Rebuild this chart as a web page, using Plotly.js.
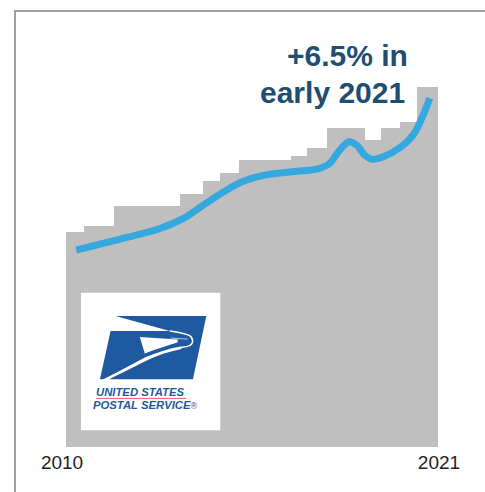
<!DOCTYPE html>
<html>
<head>
<meta charset="utf-8">
<script src="https://cdn.plot.ly/plotly-3.0.1.min.js"></script>
<style>
  html, body { margin: 0; padding: 0; background: #fff; overflow: hidden; }
  #frame { position: absolute; left: 14px; top: 10px; width: 471px; height: 482px;
           border-left: 2px solid #a0a0a0; border-top: 2px solid #a0a0a0; box-sizing: border-box; }
  #chart { position: absolute; left: 0; top: 0; width: 485px; height: 492px; }
</style>
</head>
<body>
<div id="frame"></div>
<div id="chart"></div>
<script>
// Yearly step index (grey) and the smoothed trend drawn over it.
const stepEdges = [2010, 2010.53, 2011.42, 2013.37, 2014.05, 2014.55, 2015.12, 2016.65,
                   2017.13, 2017.72, 2018.84, 2019.31, 2019.88, 2020.38, 2021];
const stepValues = [59.6, 61.4, 66.9, 70.4, 73.9, 76.1, 79.6, 80.9, 83, 88.6, 85.2, 88.6, 90.4, 100];

const trendYears = [2010.30, 2010.81, 2011.79, 2012.78, 2013.47, 2014.06, 2014.75, 2015.24,
                    2015.80, 2016.72, 2017.41, 2017.78, 2018.08, 2018.37, 2018.60,
                    2018.84, 2019.06, 2019.38, 2019.88, 2020.27, 2020.52, 2020.76];
const trendValues = [54.7, 55.9, 58.2, 60.7, 63.5, 67.2, 71.4, 73.8,
                     75.4, 76.5, 77.2, 78.6, 82.3, 84.8, 83.8,
                     81.0, 79.9, 80.6, 83.2, 86.7, 91.3, 96.9];

const tickPositions = [2009.88, 2021.03];
const tickLabels = ['2010', '2021'];

// Postal emblem on its white panel, 140 x 138 units.
const emblem = `<svg xmlns="http://www.w3.org/2000/svg" width="420" height="414" viewBox="0 0 140 138">
<rect width="140" height="138" fill="#fff"/>
<path d="M34.7 23.4 L125.7 23.4 L112.3 86.7 L19 86.7 L29.7 38.4 L89 38.4 Z" fill="#1f5aa0"/>
<path d="M89 38.4 C97 39.5 105 41 109 43 C113 46 113 51 109 53 C105 54.5 102 54.5 99 55" fill="none" stroke="#fff" stroke-width="1.4"/>
<path d="M21 87.5 C40 78 55 70 64 65 C76 60 88 56 100 54 L101 56.5 C88 59 76 63 66 68 C52 75 38 82 27 87.5 Z" fill="#fff"/>
<path d="M59 44.4 L97.3 47 L96.7 50 C86 53 74 57 64 61 Z" fill="#fff"/>
<path d="M90 45.5 L107 46.5" stroke="#cfe0f0" stroke-width="0.8" fill="none"/>
</svg>`;

const data = [
  {
    type: 'bar',
    x: stepEdges.slice(0, -1),
    y: stepValues,
    width: stepValues.map((_, i) => stepEdges[i + 1] - stepEdges[i]),
    offset: 0,
    marker: { color: '#bfbfbf', line: { width: 0 } },
    hoverinfo: 'skip'
  },
  {
    type: 'scatter',
    mode: 'lines',
    x: trendYears,
    y: trendValues,
    line: { color: '#36a8e0', width: 7, shape: 'spline', smoothing: 1 },
    hoverinfo: 'skip'
  }
];

const layout = {
  width: 485,
  height: 492,
  margin: { l: 59.9, r: 43, t: 15, b: 45.3, pad: 0 },
  paper_bgcolor: 'rgba(0,0,0,0)',
  plot_bgcolor: 'rgba(0,0,0,0)',
  showlegend: false,
  bargap: 0,
  xaxis: {
    range: [2009.82, 2021.12],
    showgrid: false,
    zeroline: false,
    showline: false,
    ticks: '',
    tickmode: 'array',
    tickvals: tickPositions,
    ticktext: tickLabels,
    tickfont: { family: 'Liberation Sans, Arial, sans-serif', size: 19, color: '#222' },
    ticklabelstandoff: 2
  },
  yaxis: { range: [0, 120], visible: false },
  images: [{
    source: 'data:image/svg+xml;charset=utf-8,' + encodeURIComponent(emblem),
    xref: 'x', yref: 'y',
    x: 2010.44, y: 42.9,
    sizex: 4.13, sizey: 38.34,
    sizing: 'stretch',
    xanchor: 'left', yanchor: 'top',
    layer: 'above'
  }],
  annotations: [
    { text: '<b>+6.5% in</b>', x: 2020.16, y: 108.7, xref: 'x', yref: 'y', showarrow: false,
      xanchor: 'right', yanchor: 'middle', font: { family: 'Liberation Sans, Arial, sans-serif', size: 30, color: '#1f4e70' } },
    { text: '<b>early 2021</b>', x: 2020.08, y: 98.6, xref: 'x', yref: 'y', showarrow: false,
      xanchor: 'right', yanchor: 'middle', font: { family: 'Liberation Sans, Arial, sans-serif', size: 30, color: '#1f4e70' } },
    { text: '<b><i>UNITED STATES</i></b>', x: 2010.84, y: 15.3, xref: 'x', yref: 'y', showarrow: false,
      xanchor: 'left', yanchor: 'middle', font: { family: 'Liberation Sans, Arial, sans-serif', size: 11.3, color: '#1f5aa0' } },
    { text: '<b><i>POSTAL SERVICE</i></b><span style="font-size:9px">®</span>', x: 2010.74, y: 11.7, xref: 'x', yref: 'y', showarrow: false,
      xanchor: 'left', yanchor: 'middle', font: { family: 'Liberation Sans, Arial, sans-serif', size: 11.3, color: '#1f5aa0' } }
  ],
  shapes: [
    { type: 'line', xref: 'x', yref: 'y', x0: 2010.89, x1: 2013.55, y0: 13.5, y1: 13.5,
      line: { color: '#e0606a', width: 1 } }
  ]
};

Plotly.newPlot('chart', data, layout, { staticPlot: true, displayModeBar: false });
</script>
</body>
</html>
